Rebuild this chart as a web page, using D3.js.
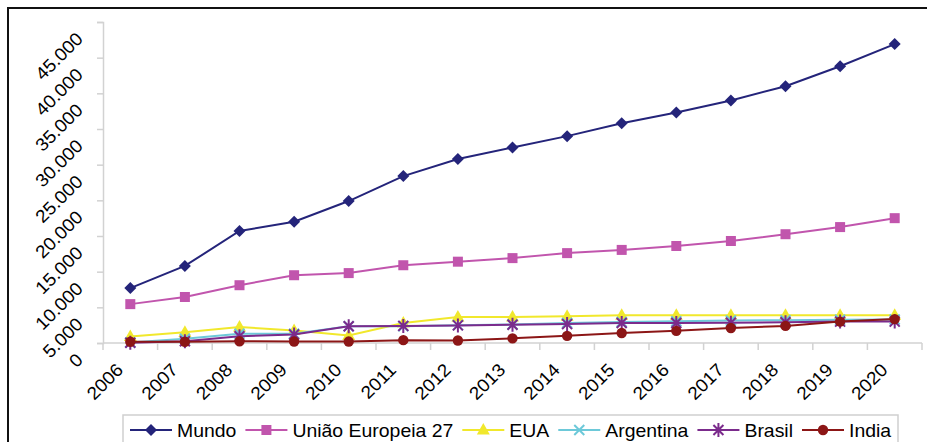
<!DOCTYPE html>
<html>
<head>
<meta charset="utf-8">
<script src="https://cdn.jsdelivr.net/npm/d3@7"></script>
<style>
  html, body { margin: 0; padding: 0; background: #fff; }
  svg { display: block; font-family: "Liberation Sans", Arial, sans-serif; }
</style>
</head>
<body>
<svg id="chart" width="927" height="442"></svg>
<script>
// Years on the category axis
const years = ["2006","2007","2008","2009","2010","2011","2012","2013","2014","2015","2016","2017","2018","2019","2020"];

// Value-axis tick values
const yTicks = [0, 5000, 10000, 15000, 20000, 25000, 30000, 35000, 40000, 45000];

// Series values by year
const mundo     = [7700, 10800, 15700, 17000, 19900, 23400, 25800, 27400, 29000, 30800, 32300, 34000, 36000, 38800, 41900];
const uniaoEu   = [5450, 6450, 8100, 9500, 9800, 10900, 11400, 11900, 12600, 13050, 13600, 14300, 15250, 16250, 17500];
const eua       = [900, 1500, 2250, 1750, 1050, 2800, 3650, 3650, 3750, 3880, 3880, 3880, 3880, 3880, 3900];
const argentina = [80, 600, 1300, 1300, 2350, 2350, 2500, 2600, 2800, 2950, 3050, 3150, 3200, 3250, 3300];
const brasil    = [30, 250, 950, 1200, 2350, 2400, 2470, 2560, 2650, 2800, 2800, 2850, 2900, 3000, 3000];
const india     = [170, 170, 250, 200, 200, 400, 350, 650, 1000, 1400, 1700, 2100, 2400, 3000, 3350];

const seriesNames = ["Mundo", "União Europeia 27", "EUA", "Argentina", "Brasil", "India"];
const seriesValues = [mundo, uniaoEu, eua, argentina, brasil, india];
const seriesColors = ["#24247a", "#c155ad", "#f1e82c", "#6dc9d9", "#7b2b8c", "#8c1616"];
const seriesMarkers = ["diamond", "square", "triangle", "cross", "star", "circle"];

const svg = d3.select("#chart");

// Outer frame
svg.append("rect")
  .attr("x", 8).attr("y", 8)
  .attr("width", 940).attr("height", 460)
  .attr("fill", "none").attr("stroke", "#111").attr("stroke-width", 2);

const plot = { left: 103, right: 922, top: 22, bottom: 343 };

const x = d3.scaleBand().domain(years).range([plot.left, plot.right]).padding(0);
const y = d3.scaleLinear().domain([0, 45000]).range([plot.bottom, plot.top]);
const cx = d => x(d) + x.bandwidth() / 2;

const axisColor = "#d2d2d2";
const labelSize = 18;
const stretch = 1.06;

// Value axis
const yAxis = svg.append("g").attr("transform", `translate(${plot.left},0)`)
  .call(d3.axisLeft(y).tickValues(yTicks).tickSize(6).tickFormat(""));
yAxis.select(".domain").attr("stroke", axisColor).attr("stroke-width", 1.5);
yAxis.selectAll(".tick line").attr("stroke", axisColor).attr("stroke-width", 1.5);

const fmt = v => d3.format(",")(v).replace(/,/g, ".");
svg.append("g").selectAll("text").data(yTicks).join("text")
  .attr("transform", d => `translate(84,${y(d) + 18}) rotate(-45) scale(${stretch},1)`)
  .attr("text-anchor", "end")
  .attr("font-size", labelSize)
  .attr("fill", "#000")
  .text(d => fmt(d));

// Category axis with ticks between years
const xAxis = svg.append("g").attr("transform", `translate(0,${plot.bottom})`);
xAxis.append("line")
  .attr("x1", plot.left).attr("x2", plot.right)
  .attr("stroke", axisColor).attr("stroke-width", 1.5);
const boundaries = years.map(d => x(d)).concat([plot.right]);
xAxis.selectAll("line.tk").data(boundaries).join("line")
  .attr("class", "tk")
  .attr("x1", d => d).attr("x2", d => d)
  .attr("y1", 0).attr("y2", 7)
  .attr("stroke", axisColor).attr("stroke-width", 1.5);

svg.append("g").selectAll("text").data(years).join("text")
  .attr("transform", d => `translate(${cx(d) - 6},371) rotate(-45) scale(${stretch},1)`)
  .attr("text-anchor", "end")
  .attr("font-size", labelSize)
  .attr("fill", "#000")
  .text(d => d);

// Marker drawing
function drawMarker(sel, type, color) {
  switch (type) {
    case "diamond":
      sel.append("path").attr("d", "M0,-6L6,0L0,6L-6,0Z").attr("fill", color);
      break;
    case "square":
      sel.append("rect").attr("x", -5).attr("y", -5).attr("width", 10).attr("height", 10).attr("fill", color);
      break;
    case "triangle":
      sel.append("path").attr("d", "M0,-7L6.5,4.5L-6.5,4.5Z").attr("fill", color);
      break;
    case "circle":
      sel.append("circle").attr("r", 5.2).attr("fill", color);
      break;
    case "cross":
      sel.append("path").attr("d", "M-5,-5L5,5M-5,5L5,-5")
        .attr("stroke", color).attr("stroke-width", 2).attr("fill", "none");
      break;
    case "star":
      sel.append("path").attr("d", "M-5,-5L5,5M-5,5L5,-5M0,-7L0,7")
        .attr("stroke", color).attr("stroke-width", 2).attr("fill", "none");
      break;
  }
}

const line = d3.line().x((d, i) => cx(years[i])).y(d => y(d));

seriesValues.forEach((vals, si) => {
  const g = svg.append("g");
  g.append("path")
    .datum(vals)
    .attr("d", line)
    .attr("fill", "none")
    .attr("stroke", seriesColors[si])
    .attr("stroke-width", 2);
  g.selectAll("g.m").data(vals).join("g")
    .attr("class", "m")
    .attr("transform", (d, i) => `translate(${cx(years[i])},${y(d)})`)
    .each(function () { drawMarker(d3.select(this), seriesMarkers[si], seriesColors[si]); });
});

// Legend
const legend = svg.append("g");
legend.append("rect")
  .attr("x", 123).attr("y", 415)
  .attr("width", 775).attr("height", 60)
  .attr("fill", "#fff").attr("stroke", "#cfcfcf").attr("stroke-width", 1.5);

let lx = 130;
const ly = 430;
const sx = 1.08;
seriesNames.forEach((name, si) => {
  const item = legend.append("g");
  item.append("line")
    .attr("x1", lx).attr("x2", lx + 42)
    .attr("y1", ly).attr("y2", ly)
    .attr("stroke", seriesColors[si]).attr("stroke-width", 2);
  const m = item.append("g").attr("transform", `translate(${lx + 21},${ly})`);
  drawMarker(m, seriesMarkers[si], seriesColors[si]);
  const t = item.append("text")
    .attr("transform", `translate(${lx + 47},${ly + 6.5}) scale(${sx},1)`)
    .attr("font-size", 18)
    .attr("fill", "#000")
    .text(name);
  const w = t.node().getComputedTextLength() * sx;
  lx = lx + 47 + w + 9;
});
</script>
</body>
</html>
